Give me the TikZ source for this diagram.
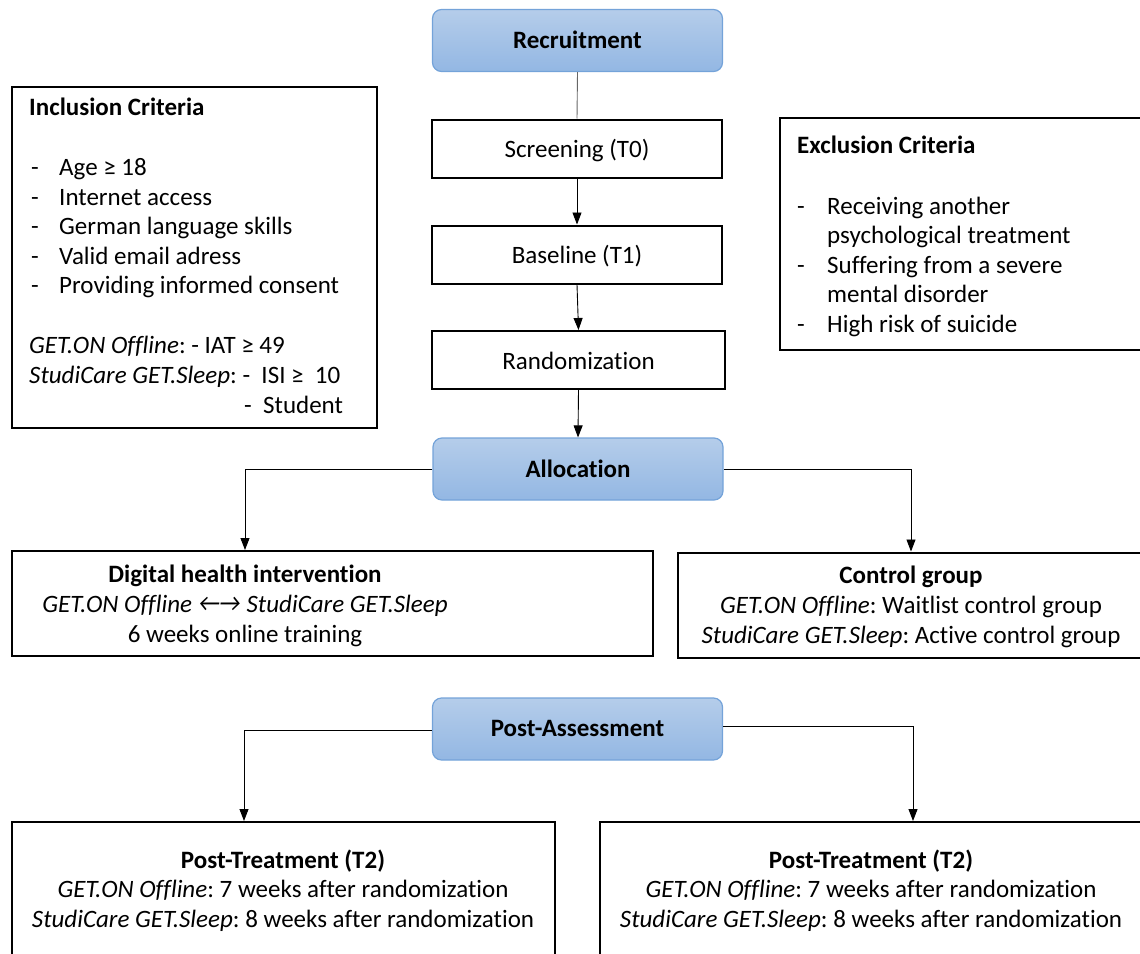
\documentclass[tikz,border=0pt]{standalone}
\usepackage{fontspec}
\setmainfont{Carlito}[Ligatures=NoCommon]
\usetikzlibrary{arrows.meta}
\definecolor{phasetop}{HTML}{B5CDEA}
\definecolor{phasebot}{HTML}{93B7E3}
\definecolor{phaseedge}{HTML}{74A3D9}
\frenchspacing
\begin{document}
\begin{tikzpicture}[x=1pt,y=-1pt,
  every node/.style={font=\fontsize{25}{30}\selectfont},
  bf/.style={font=\fontsize{25}{30}\selectfont\bfseries},
  phase/.style={draw=phaseedge, line width=1.2pt, rounded corners=9pt,
    top color=phasetop, bottom color=phasebot, inner sep=0pt},
  stepbox/.style={draw=black, line width=2pt, inner sep=0pt},
  lbl/.style={inner sep=0pt, anchor=base west},
  clbl/.style={inner sep=0pt, anchor=base},
  conn/.style={line width=0.9pt, -{Triangle[length=12pt,width=9pt]}},
  plain/.style={line width=0.9pt, draw=black!60}
]
\useasboundingbox (0,0) rectangle (1140,953);
\clip (0,0) rectangle (1140,953);

% phase boxes
\node[phase, minimum width=290pt, minimum height=62pt] (rec) at (577.5,40.5) {};
\node[clbl, bf] (rect) at (577.5,48) {Recruitment};
\node[phase, minimum width=290pt, minimum height=62pt] (alloc) at (578,469) {};
\node[clbl, bf] (alloct) at (578,477) {Allocation};
\node[phase, minimum width=290pt, minimum height=62pt] (post) at (577.5,729) {};
\node[clbl, bf] (postt) at (577.5,736) {Post-Assessment};

% step boxes
\node[stepbox, minimum width=290pt, minimum height=58pt] (scr) at (577,148.5) {};
\node[clbl] (scrt) at (577,157) {Screening (T0)};
\node[stepbox, minimum width=290pt, minimum height=58pt] (base) at (577,254.5) {};
\node[clbl] (baset) at (577,263) {Baseline (T1)};
\node[stepbox, minimum width=293pt, minimum height=58pt] (rand) at (578.5,360) {};
\node[clbl] (randt) at (578.5,369) {Randomization};

% inclusion criteria
\node[stepbox, minimum width=365pt, minimum height=341pt] (inc) at (194.5,257.5) {};
\node[lbl, bf] (inct) at (29,115) {Inclusion Criteria};
\foreach \y/\t [count=\i] in {175/Age ≥ 18,205/Internet access,234/German language skills,264/Valid email adress,293/Providing informed consent}{
  \node[lbl] (incd\i) at (31,\y) {-};
  \node[lbl] (inci\i) at (59,\y) {\t};
}
\node[lbl] (incg) at (29,353) {\textit{GET.ON Offline}: - IAT ≥ 49};
\node[lbl] (incs) at (29,383) {\textit{StudiCare GET.Sleep}: -\ \ ISI ≥\ \ 10};
\node[lbl] (incst) at (244,413) {-\ \ Student};

% exclusion criteria
\node[stepbox, minimum width=370pt, minimum height=232pt] (exc) at (965,234) {};
\node[lbl, bf] (exct) at (797,153) {Exclusion Criteria};
\node[lbl] (excd1) at (797,214) {-};
\node[lbl] (exci1) at (827,214) {Receiving another};
\node[lbl] (exci1b) at (827,243.5) {psychological treatment};
\node[lbl] (excd2) at (797,273) {-};
\node[lbl] (exci2) at (827,273) {Suffering from a severe};
\node[lbl] (exci2b) at (827,302.5) {mental disorder};
\node[lbl] (excd3) at (797,332) {-};
\node[lbl] (exci3) at (827,332) {High risk of suicide};

% groups
\node[stepbox, minimum width=641pt, minimum height=105pt] (dig) at (332.5,603.5) {};
\node[clbl, bf] (digt) at (245,582) {Digital health intervention};
\node[clbl] (digl2) at (245,612) {\textit{GET.ON Offline \raisebox{0.5pt}{←\kern-2pt→} StudiCare GET.Sleep}};
\node[clbl] (digl3) at (245,642) {6 weeks online training};

\node[stepbox, minimum width=470pt, minimum height=105pt] (ctl) at (913,605) {};
\node[clbl, bf] (ctlt) at (911,583) {Control group};
\node[clbl] (ctl2) at (911,613) {\textit{GET.ON Offline}: Waitlist control group};
\node[clbl] (ctl3) at (911,643) {\textit{StudiCare GET.Sleep}: Active control group};

% post-treatment
\node[stepbox, minimum width=543pt, minimum height=170pt] (ptl) at (283.5,907) {};
\node[clbl, bf] (ptlt) at (283,868) {Post-Treatment (T2)};
\node[clbl] (ptl2) at (283,897.5) {\textit{GET.ON Offline}: 7 weeks after randomization};
\node[clbl] (ptl3) at (283,927) {\textit{StudiCare GET.Sleep}: 8 weeks after randomization};

\node[stepbox, minimum width=545pt, minimum height=170pt] (ptr) at (872.5,907) {};
\node[clbl, bf] (ptrt) at (871,868) {Post-Treatment (T2)};
\node[clbl] (ptr2) at (871,897.5) {\textit{GET.ON Offline}: 7 weeks after randomization};
\node[clbl] (ptr3) at (871,927) {\textit{StudiCare GET.Sleep}: 8 weeks after randomization};

% connectors
\draw[plain] (rec.south) -- (scr.north);
\draw[conn] (scr.south) -- (base.north);
\draw[conn] (base.south) -- (rand.north);
\draw[conn] (rand.south) -- (alloc.north);
\draw[conn] (alloc.west) -| (dig.north -| digt.north);
\draw[conn] (alloc.east) -| (ctl.north -| ctlt.north);
\draw[conn] ([yshift=-1pt]post.west) -| (ptl.north -| 244,0);
\draw[conn] ([yshift=3pt]post.east) -| (ptr.north -| 913,0);
\end{tikzpicture}
\end{document}
